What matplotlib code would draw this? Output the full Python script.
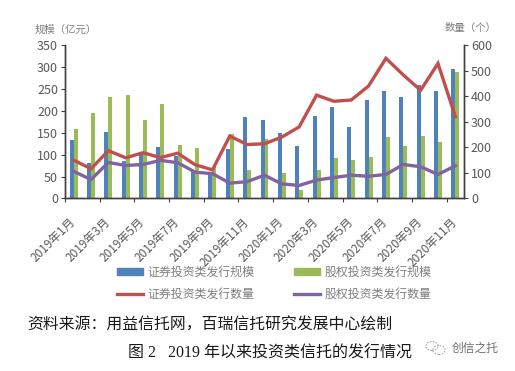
# coding: utf-8
import matplotlib
matplotlib.use("Agg")
import matplotlib.pyplot as plt
from matplotlib.patches import Patch, Circle
from matplotlib.lines import Line2D
from matplotlib.transforms import ScaledTranslation
import numpy as np

plt.rcParams['font.family'] = ['Noto Sans CJK SC', 'DejaVu Sans']

months = ["2019年1月", "2019年2月", "2019年3月", "2019年4月", "2019年5月", "2019年6月",
          "2019年7月", "2019年8月", "2019年9月", "2019年10月", "2019年11月", "2019年12月",
          "2020年1月", "2020年2月", "2020年3月", "2020年4月", "2020年5月", "2020年6月",
          "2020年7月", "2020年8月", "2020年9月", "2020年10月", "2020年11月"]
sec_scale = [133, 80, 152, 85, 101, 117, 97, 62, 55, 113, 185, 180,
             149, 119, 189, 208, 163, 225, 244, 231, 258, 244, 296]
eq_scale = [158, 196, 231, 235, 180, 215, 123, 115, 72, 148, 65, 135,
            58, 20, 66, 92, 87, 94, 140, 120, 142, 129, 288]
sec_count = [150, 116, 187, 159, 179, 160, 177, 132, 112, 244, 211, 214,
             240, 280, 404, 380, 385, 440, 548, 483, 423, 528, 320]
eq_count = [106, 74, 141, 129, 133, 149, 140, 103, 97, 60, 66, 91,
            57, 51, 72, 82, 91, 87, 94, 133, 124, 94, 128]

BLUE = "#4f81bd"
GREEN = "#9bbb59"
RED = "#c0504d"
PURPLE = "#8064a2"
GREY = "#595959"

W, H = 515, 371
fig = plt.figure(figsize=(W / 100, H / 100), dpi=100)
ax = fig.add_axes([65 / W, 1 - 198.5 / H, (464 - 65) / W, 153.5 / H])
ax2 = ax.twinx()

x = np.arange(len(months))
ax.bar(x - 0.115, sec_scale, width=0.23, color=BLUE)
ax.bar(x + 0.115, eq_scale, width=0.23, color=GREEN)
ax2.plot(x, sec_count, color=RED, lw=2.4, solid_joinstyle="miter")
ax2.plot(x, eq_count, color=PURPLE, lw=2.4, solid_joinstyle="miter")

ax.set_xlim(-0.5, len(months) - 0.5)
ax.set_ylim(0, 350)
ax2.set_ylim(0, 600)
ax.set_yticks(range(0, 351, 50))
ax2.set_yticks(range(0, 601, 100))

# labels sit on the categories, tick marks on the boundaries
ax.set_xticks(x[::2])
ax.set_xticklabels(months[::2], rotation=45, ha="right", va="top",
                   rotation_mode="anchor", fontsize=8.5, color=GREY)
ax.set_xticks(x[::2] - 0.5, minor=True)
ax.tick_params(axis="x", which="major", length=0, pad=12)
ax.tick_params(axis="x", which="minor", length=3, width=0.8, color="#404040")
ax.tick_params(axis="y", length=3, width=0.8, color="#404040", labelsize=9, labelcolor=GREY, pad=2)
ax2.tick_params(axis="y", length=3, width=0.8, color="#404040", labelsize=9, labelcolor=GREY, pad=2)

# nudge the rotated labels to the left
shift = ScaledTranslation(-5 / 100, 0, fig.dpi_scale_trans)
for lab in ax.get_xticklabels():
    lab.set_transform(lab.get_transform() + shift)

for a in (ax, ax2):
    a.spines["top"].set_visible(False)
    for s in ("left", "right", "bottom"):
        a.spines[s].set_color("#404040")
        a.spines[s].set_linewidth(1.0)

fig.text(35 / W, 1 - 30 / H, "规模（亿元）", fontsize=7.5, color="#7f7f7f", va="center")
fig.text(445 / W, 1 - 28 / H, "数量（个）", fontsize=7.5, color="#7f7f7f", va="center")

handles = [Patch(color=BLUE), Line2D([], [], color=RED, lw=2.4),
           Patch(color=GREEN), Line2D([], [], color=PURPLE, lw=2.4)]
labels = ["证券投资类发行规模", "证券投资类发行数量", "股权投资类发行规模", "股权投资类发行数量"]
fig.legend(handles, labels, ncol=2, frameon=False, fontsize=8.6, labelcolor="#7f7f7f",
           loc="center", bbox_to_anchor=(274 / W, 1 - 283.5 / H),
           handlelength=2.2, handleheight=0.55, handletextpad=0.35,
           columnspacing=3.3, labelspacing=0.75)

fig.text(27 / W, 1 - 325 / H, "资料来源：用益信托网，百瑞信托研究发展中心绘制",
         fontsize=11.4, color="#1a1a1a", va="center")
fig.text(128 / W, 1 - 354 / H, "图 2   2019 年以来投资类信托的发行情况",
         fontsize=11.5, color="#1a1a1a", va="center",
         family=['Liberation Serif', 'Noto Sans CJK SC'])

# watermark
fig.add_artist(Circle((432 / W, 1 - 346 / H), 0.012, transform=fig.transFigure, fill=False,
                      ec="#9a9a9a", lw=0.7, ls=(0, (1.5, 1.5))))
fig.add_artist(Circle((439 / W, 1 - 350 / H), 0.012, transform=fig.transFigure, fill=False,
                      ec="#9a9a9a", lw=0.7, ls=(0, (1.5, 1.5))))
fig.text(452 / W, 1 - 348 / H, "创信之托", fontsize=8.5, color="#6f6f6f", va="center")

fig.savefig("out.png", dpi=100)
